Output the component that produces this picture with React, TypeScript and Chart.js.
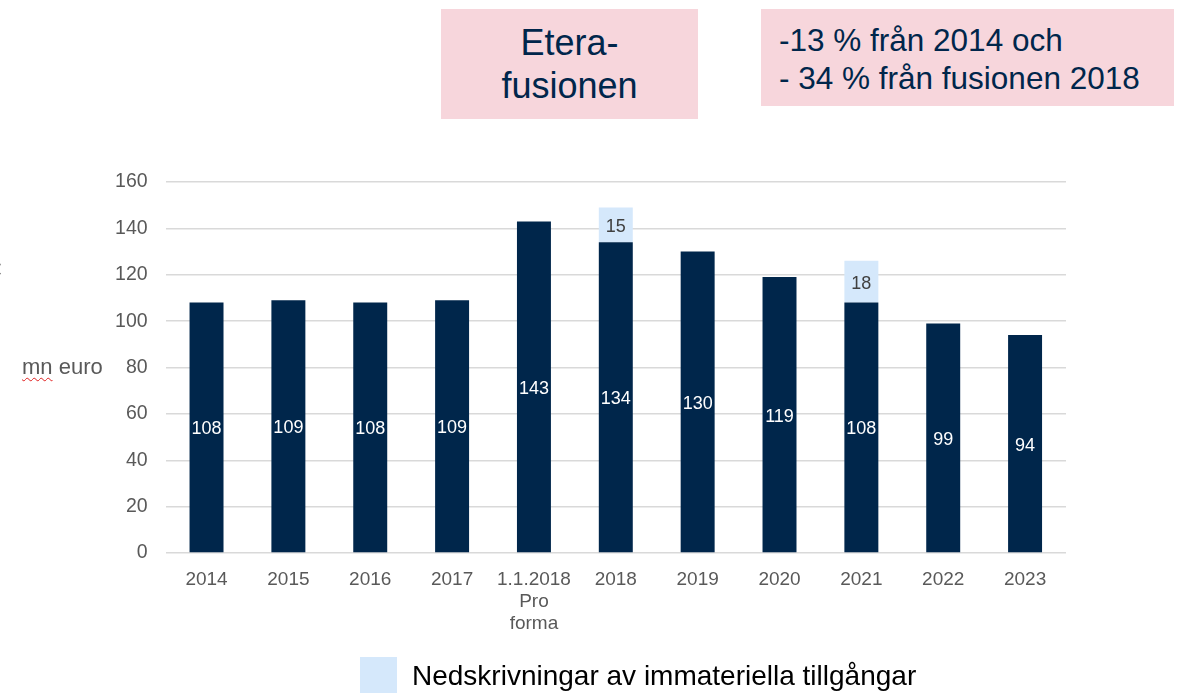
import React, { useEffect, useRef } from "react";
import { Chart, registerables } from "chart.js";

Chart.register(...registerables);

const categories: (string | string[])[] = [
  "2014", "2015", "2016", "2017", ["1.1.2018", "Pro", "forma"],
  "2018", "2019", "2020", "2021", "2022", "2023",
];
const operatingCosts = [108, 109, 108, 109, 143, 134, 130, 119, 108, 99, 94];
const writeDowns = [null, null, null, null, null, 15, null, null, 18, null, null];
const yTicks = [0, 20, 40, 60, 80, 100, 120, 140, 160];

const legendLabel = "Nedskrivningar av immateriella tillgångar";
const boxLeftLines = ["Etera-", "fusionen"];
const boxRightLines = ["-13 % från 2014 och", "- 34 % från fusionen 2018"];

const DARK = "#00264b";
const LIGHT = "#d5e8fb";
const PINK = "#f7d6dc";
const FONT = "'Liberation Sans', Arial, sans-serif";

const labelPlugin = {
  id: "barLabels",
  afterDatasetsDraw(chart: any) {
    const ctx = chart.ctx;
    ctx.save();
    ctx.font = `18px ${FONT}`;
    ctx.textAlign = "center";
    ctx.textBaseline = "middle";
    chart.data.datasets.forEach((ds: any, di: number) => {
      const meta = chart.getDatasetMeta(di);
      meta.data.forEach((el: any, i: number) => {
        const v = ds.data[i];
        if (v == null) return;
        ctx.fillStyle = di === 0 ? "#ffffff" : "#404040";
        ctx.fillText(String(Math.round(v)), el.x, (el.y + el.base) / 2 + 2);
      });
    });
    ctx.restore();
  },
};

export default function App() {
  const ref = useRef<HTMLCanvasElement>(null);
  useEffect(() => {
    if (!ref.current) return;
    const chart = new Chart(ref.current, {
      type: "bar",
      data: {
        labels: categories as any,
        datasets: [
          {
            label: "Kostnader",
            data: operatingCosts,
            backgroundColor: DARK,
            barPercentage: 0.415,
            categoryPercentage: 1,
          },
          {
            label: legendLabel,
            data: writeDowns as any,
            backgroundColor: LIGHT,
            barPercentage: 0.415,
            categoryPercentage: 1,
          },
        ],
      },
      options: {
        animation: false,
        responsive: false,
        maintainAspectRatio: false,
        layout: { padding: { left: 0, right: 117, top: 182, bottom: 0 } },
        plugins: { legend: { display: false }, tooltip: { enabled: false } },
        scales: {
          x: {
            stacked: true,
            grid: { display: false },
            border: { display: false },
            ticks: {
              color: "#595959",
              font: { family: FONT, size: 19, lineHeight: 1.16 },
              padding: 8,
              maxRotation: 0,
              autoSkip: false,
            },
            afterFit: (s: any) => { s.height = 145; },
          },
          y: {
            stacked: true,
            min: 0,
            max: 160,
            afterBuildTicks: (s: any) => { s.ticks = yTicks.map((v) => ({ value: v })); },
            grid: { color: "#d9d9d9", lineWidth: 1.5, drawTicks: false },
            border: { display: false },
            ticks: {
              color: "#595959",
              font: { family: FONT, size: 19.5 },
              padding: 18,
            },
            afterFit: (s: any) => { s.width = 165.6; },
          },
        },
      },
      plugins: [labelPlugin],
    });
    return () => chart.destroy();
  }, []);

  return (
    <div style={{ position: "absolute", left: 0, top: 0, width: 1183, height: 698, background: "#fff", overflow: "hidden", fontFamily: FONT }}>
      <canvas ref={ref} width={1183} height={698} style={{ position: "absolute", left: 0, top: 0 }} />
      <div style={{ position: "absolute", left: 441, top: 9, width: 257, height: 110, background: PINK, color: DARK, fontSize: 36, lineHeight: "43px", textAlign: "center", display: "flex", flexDirection: "column", justifyContent: "center" }}>
        {boxLeftLines.map((l) => <div key={l}>{l}</div>)}
      </div>
      <div style={{ position: "absolute", left: 761, top: 9, width: 413, height: 97, background: PINK, color: DARK, fontSize: 31.5, lineHeight: "38px", boxSizing: "border-box", paddingLeft: 18, paddingTop: 3, display: "flex", flexDirection: "column", justifyContent: "center" }}>
        {boxRightLines.map((l) => <div key={l}>{l}</div>)}
      </div>
      <div style={{ position: "absolute", left: 22, top: 354, fontSize: 22, color: "#595959", whiteSpace: "nowrap" }}>
        <span style={{ textDecoration: "underline wavy #e02020", textDecorationThickness: 1, textUnderlineOffset: 3 }}>mn</span> euro
      </div>
      <div style={{ position: "absolute", left: -10, top: 258, fontSize: 20, color: "#595959" }}>€</div>
      <div style={{ position: "absolute", left: 360, top: 657, width: 37, height: 36, background: LIGHT }} />
      <div style={{ position: "absolute", left: 412, top: 658, fontSize: 28, lineHeight: "36px", color: "#000", whiteSpace: "nowrap" }}>{legendLabel}</div>
    </div>
  );
}
